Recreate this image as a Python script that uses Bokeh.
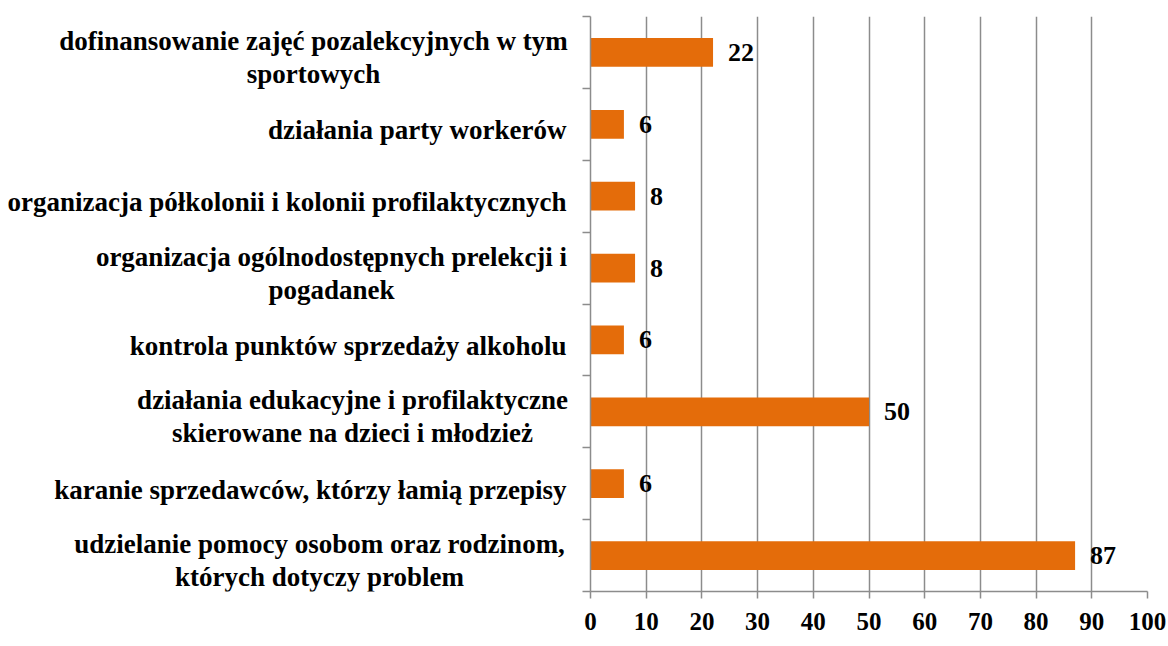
from bokeh.plotting import figure
from bokeh.layouts import row
from bokeh.models import ColumnDataSource, Range1d, FixedTicker, CustomJSTickFormatter
from bokeh.core.properties import value
from bokeh.embed import file_html
from bokeh.resources import INLINE

# Data (top to bottom as in the reference)
categories = [
    "dofinansowanie zajęć pozalekcyjnych w tym\nsportowych",
    "działania party workerów",
    "organizacja półkolonii i kolonii profilaktycznych",
    "organizacja ogólnodostępnych prelekcji i\npogadanek",
    "kontrola punktów sprzedaży alkoholu",
    "działania edukacyjne i profilaktyczne\nskierowane na dzieci i młodzież",
    "karanie sprzedawców, którzy łamią przepisy",
    "udzielanie pomocy osobom oraz rodzinom,\nktórych dotyczy problem",
]
values = [22, 6, 8, 8, 6, 50, 6, 87]
x_ticks = [0, 10, 20, 30, 40, 50, 60, 70, 80, 90, 100]

# Layout of the label panel (pixels): right edge of single-line labels,
# centres of the centred two-line labels
LABEL_RIGHT = 566
label_centers = {0: 313, 3: 331, 5: 352, 7: 319}

FONT = "Liberation Serif"
ORANGE = "#E46C0A"
GREY = "#8C8C8C"
H = 640
TOP, BOTTOM = 16, 49
LEFT_W = 580

n = len(categories)
ypos = [n - i - 0.5 for i in range(n)]
y_range = Range1d(0, n)

src = ColumnDataSource(dict(y=ypos, v=values, t=[str(v) for v in values]))

# ---- label panel on the left ----
single = [i for i in range(n) if i not in label_centers]
multi = [i for i in range(n) if i in label_centers]
src_single = ColumnDataSource(dict(
    x=[LABEL_RIGHT] * len(single),
    y=[ypos[i] for i in single],
    t=[categories[i] for i in single]))
src_multi = ColumnDataSource(dict(
    x=[label_centers[i] for i in multi],
    y=[ypos[i] for i in multi],
    t=[categories[i] for i in multi]))

pl = figure(width=LEFT_W, height=H, x_range=Range1d(0, LEFT_W), y_range=y_range,
            output_backend="svg", toolbar_location=None,
            min_border_left=0, min_border_right=0,
            min_border_top=TOP, min_border_bottom=BOTTOM,
            x_axis_location=None, y_axis_location=None)
pl.outline_line_color = None
pl.grid.visible = False
pl.text(x="x", y="y", text="t", source=src_single, y_offset=6,
        text_align="right", text_baseline="middle",
        text_font=value(FONT), text_font_style="bold",
        text_font_size="27px", text_color="black")
pl.text(x="x", y="y", text="t", source=src_multi, y_offset=5,
        text_align="center", text_baseline="middle",
        text_font=value(FONT), text_font_style="bold",
        text_font_size="27px", text_line_height=1.1, text_color="black")

# ---- chart ----
p = figure(
    width=586, height=H,
    x_range=Range1d(0, 100), y_range=y_range,
    output_backend="svg", toolbar_location=None,
    min_border_left=10, min_border_right=19,
    min_border_top=TOP, min_border_bottom=BOTTOM,
)
p.outline_line_color = None

p.hbar(y="y", right="v", left=0, height=0.4, source=src,
       fill_color=ORANGE, line_color=None)

p.text(x="v", y="y", text="t", source=src, x_offset=15,
       text_align="left", text_baseline="middle",
       text_font=value(FONT), text_font_style="bold",
       text_font_size="26px", text_color="black")

p.xaxis.ticker = FixedTicker(ticks=x_ticks)
p.xaxis.axis_line_color = GREY
p.xaxis.axis_line_width = 1.5
p.xaxis.major_tick_line_color = GREY
p.xaxis.major_tick_line_width = 1.5
p.xaxis.major_tick_out = 7
p.xaxis.major_tick_in = 0
p.xaxis.minor_tick_line_color = None
p.xaxis.major_label_text_font = FONT
p.xaxis.major_label_text_font_style = "bold"
p.xaxis.major_label_text_font_size = "25px"
p.xaxis.major_label_text_color = "black"
p.xaxis.major_label_standoff = 14

p.yaxis.ticker = FixedTicker(ticks=list(range(n + 1)))
p.yaxis.formatter = CustomJSTickFormatter(code="return ''")
p.yaxis.axis_line_color = GREY
p.yaxis.axis_line_width = 1.5
p.yaxis.major_tick_line_color = GREY
p.yaxis.major_tick_line_width = 1.5
p.yaxis.major_tick_out = 8
p.yaxis.major_tick_in = 0
p.yaxis.minor_tick_line_color = None
p.yaxis.major_label_text_font_size = "0px"
p.yaxis.major_label_standoff = 0

p.xgrid.ticker = FixedTicker(ticks=x_ticks)
p.xgrid.grid_line_color = GREY
p.xgrid.grid_line_width = 1.5
p.ygrid.grid_line_color = None

layout = row(pl, p, spacing=0)
open("out.html", "w").write(file_html(layout, INLINE))
